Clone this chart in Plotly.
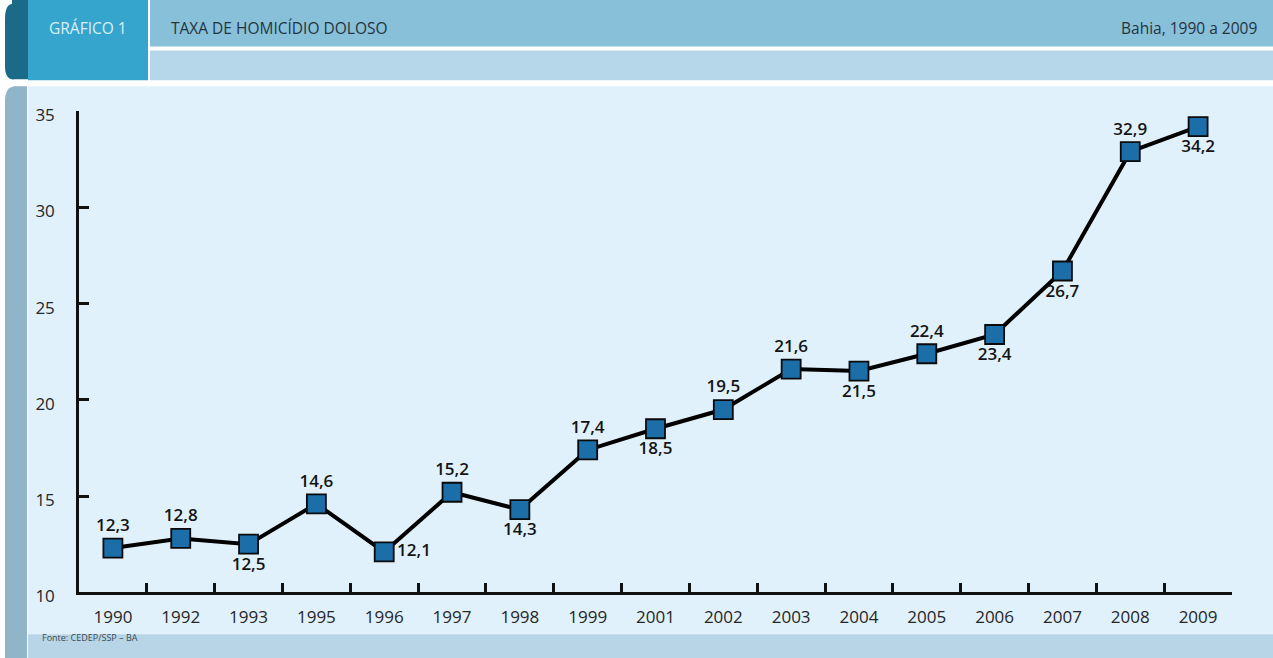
import plotly.graph_objects as go

years = ["1990", "1992", "1993", "1995", "1996", "1997", "1998", "1999", "2001",
         "2002", "2003", "2004", "2005", "2006", "2007", "2008", "2009"]
rates = [12.3, 12.8, 12.5, 14.6, 12.1, 15.2, 14.3, 17.4, 18.5,
         19.5, 21.6, 21.5, 22.4, 23.4, 26.7, 32.9, 34.2]
label_pos = ["top center", "top center", "bottom center", "top center", "middle right",
             "top center", "bottom center", "top center", "bottom center", "top center",
             "top center", "bottom center", "top center", "bottom center", "bottom center",
             "top center", "bottom center"]
y_ticks = [10, 15, 20, 25, 30, 35]

W, H = 1273, 658
FONT = "Open Sans"
# the photographed page shows the figure slightly compressed vertically
SY, OY = 0.967, 9.5


def px(x):
    return x / W


def py(y):
    return 1 - ((y - OY) / SY) / H


labels = [f"{v:.1f}".replace(".", ",") for v in rates]

fig = go.Figure()
fig.add_trace(go.Scatter(
    x=years, y=rates, mode="lines+markers+text",
    text=labels, textposition=label_pos,
    textfont=dict(family=FONT, size=17, color="#141414", weight=600),
    line=dict(color="#000000", width=4),
    marker=dict(symbol="square", size=19, color="#1b6ea8",
                line=dict(color="#0a0a0a", width=1.8)),
    cliponaxis=False, hoverinfo="skip", showlegend=False,
))

shapes = []


def rect(x0, y0, x1, y1, color):
    shapes.append(dict(type="rect", xref="paper", yref="paper",
                       x0=px(x0), x1=px(x1), y0=py(y1), y1=py(y0),
                       fillcolor=color, line=dict(width=0), layer="below"))


# header
rect(12, 0, 28, 81, "#1b6b88")
shapes.append(dict(type="path", xref="paper", yref="paper", layer="below",
                   path=f"M {px(5)},{py(20)} Q {px(5)},{py(5)} {px(14)},{py(5)} L {px(14)},{py(81)} "
                        f"Q {px(5)},{py(81)} {px(5)},{py(68)} Z",
                   fillcolor="#1b6b88", line=dict(width=0)))
rect(28, 0, 148, 82, "#36a5cd")
rect(150, 0, 1273, 48, "#88c0da")
rect(150, 52, 1273, 82, "#b6d7e9")
# body
rect(28, 88, 1273, 637, "#e0f1fb")
rect(14, 88, 27, 670, "#90b4c8")
shapes.append(dict(type="path", xref="paper", yref="paper", layer="below",
                   path=f"M {px(5)},{py(103)} Q {px(5)},{py(88)} {px(16)},{py(88)} L {px(16)},{py(670)} "
                        f"L {px(5)},{py(670)} Z",
                   fillcolor="#90b4c8", line=dict(width=0)))
rect(28, 637, 1273, 670, "#b7d5e6")

annotations = [
    dict(text="GRÁFICO 1", x=px(47), y=py(30), xref="paper", yref="paper",
         xanchor="left", yanchor="middle", showarrow=False,
         font=dict(family=FONT, size=15.5, color="#d9eff8")),
    dict(text="TAXA DE HOMICÍDIO DOLOSO", x=px(169), y=py(30), xref="paper", yref="paper",
         xanchor="left", yanchor="middle", showarrow=False,
         font=dict(family=FONT, size=15.5, color="#24343e")),
    dict(text="Bahia, 1990 a 2009", x=px(1259), y=py(30), xref="paper", yref="paper",
         xanchor="right", yanchor="middle", showarrow=False,
         font=dict(family=FONT, size=15.5, color="#24343e")),
    dict(text="Fonte: CEDEP/SSP – BA", x=px(40), y=py(640), xref="paper", yref="paper",
         xanchor="left", yanchor="middle", showarrow=False,
         font=dict(family=FONT, size=9, color="#3a4a55")),
]

fig.update_layout(
    width=W, height=H,
    margin=dict(l=0, r=0, t=0, b=0),
    paper_bgcolor="#ffffff", plot_bgcolor="rgba(0,0,0,0)",
    shapes=shapes, annotations=annotations,
    xaxis=dict(domain=[px(79), px(1232)], type="category", range=[-0.5, 16.5],
               showgrid=False, zeroline=False, showline=True, linecolor="#111111", linewidth=2.5,
               ticks="inside", ticklen=10, tickwidth=2.5, tickcolor="#111111",
               tickson="boundaries", ticklabelstandoff=8,
               tickfont=dict(family=FONT, size=17, color="#262626"), fixedrange=True),
    yaxis=dict(domain=[py(595), py(113)], range=[10, 35], tickvals=y_ticks,
               showgrid=False, zeroline=False, showline=True, linecolor="#111111", linewidth=2.5,
               ticks="inside", ticklen=10, tickwidth=2.5, tickcolor="#111111",
               ticklabelstandoff=18, ticklabelshift=4,
               tickfont=dict(family=FONT, size=17, color="#262626"), fixedrange=True),
)

fig.write_html("out.html", config={"displayModeBar": False},
               post_script="document.body.style.margin='0';document.body.style.overflow='hidden';")
